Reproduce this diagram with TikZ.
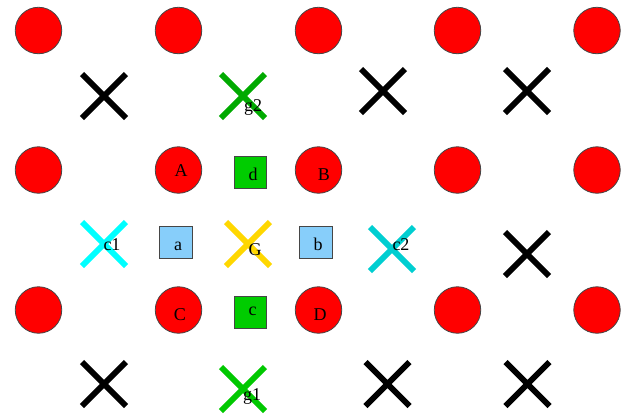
\documentclass[tikz,border=0pt]{standalone}
\usepackage{fontspec}
\setmainfont{Liberation Serif}
\usetikzlibrary{shapes.misc}
\definecolor{dotred}{RGB}{255,0,0}
\definecolor{edgegray}{RGB}{70,70,70}
\definecolor{boxgreen}{RGB}{0,204,0}
\definecolor{boxblue}{RGB}{135,206,250}
\definecolor{gtwo}{RGB}{0,170,0}
\definecolor{gone}{RGB}{0,200,0}
\definecolor{cone}{RGB}{0,255,255}
\definecolor{ctwo}{RGB}{0,206,209}
\definecolor{gold}{RGB}{255,215,0}
\tikzset{
  dot/.style={circle, draw=edgegray, line width=0.8pt, fill=dotred,
    minimum size=46.5pt, inner sep=0pt},
  tile/.style={rectangle, draw=edgegray, line width=0.8pt,
    minimum size=32.5pt, inner sep=0pt},
  xmark/.style={cross out, draw=#1, line width=6pt, minimum size=44pt,
    inner sep=0pt, outer sep=0pt},
  xmark/.default=black,
  tag/.style={anchor=base, inner sep=0pt, font=\fontsize{18}{20}\selectfont}
}
\begin{document}
\begin{tikzpicture}[x=1pt, y=-1pt]
\useasboundingbox (0,0) rectangle (625,418);
% grid of red discs
\foreach \cx [count=\i] in {38.5,178.5,318.5,457.5,597}{
  \foreach \cy [count=\j] in {30.5,170,310}{
    \node[dot] (p\i\j) at (\cx,\cy) {};
  }
}
% square tiles
\node[tile, fill=boxgreen] (d) at (250.5,172.5) {};
\node[tile, fill=boxgreen] (c) at (250.5,312.5) {};
\node[tile, fill=boxblue]  (a) at (176,242.5) {};
\node[tile, fill=boxblue]  (b) at (315.7,242.5) {};
% crosses
\node[xmark] (x11) at (104,96) {};
\node[xmark=gtwo] (g2) at (243,96) {};
\node[xmark] (x13) at (383,91) {};
\node[xmark] (x14) at (527,91) {};
\node[xmark=cone] (c1) at (104,244) {};
\node[xmark=gold] (G) at (248,244) {};
\node[xmark=ctwo] (c2) at (392,249) {};
\node[xmark] (x24) at (527,254) {};
\node[xmark] (x31) at (104,384) {};
\node[xmark=gone] (g1) at (243,389) {};
\node[xmark] (x33) at (387.5,384) {};
\node[xmark] (x34) at (527.5,384) {};
% labels
\node[tag] (tA) at (181,176) {A};
\node[tag] (tB) at (324,180) {B};
\node[tag] (tC) at (180,320) {C};
\node[tag] (tD) at (320,320) {D};
\node[tag] (td) at (253,180) {d};
\node[tag] (tc) at (252.5,315) {c};
\node[tag] (ta) at (178,250) {a};
\node[tag] (tb) at (318,250) {b};
\node[tag] (tG) at (255,255) {G};
\node[tag] (tc1) at (112,250) {c1};
\node[tag] (tc2) at (401,250) {c2};
\node[tag] (tg2) at (253,111) {g2};
\node[tag] (tg1) at (252,400) {g1};
\end{tikzpicture}
\end{document}
